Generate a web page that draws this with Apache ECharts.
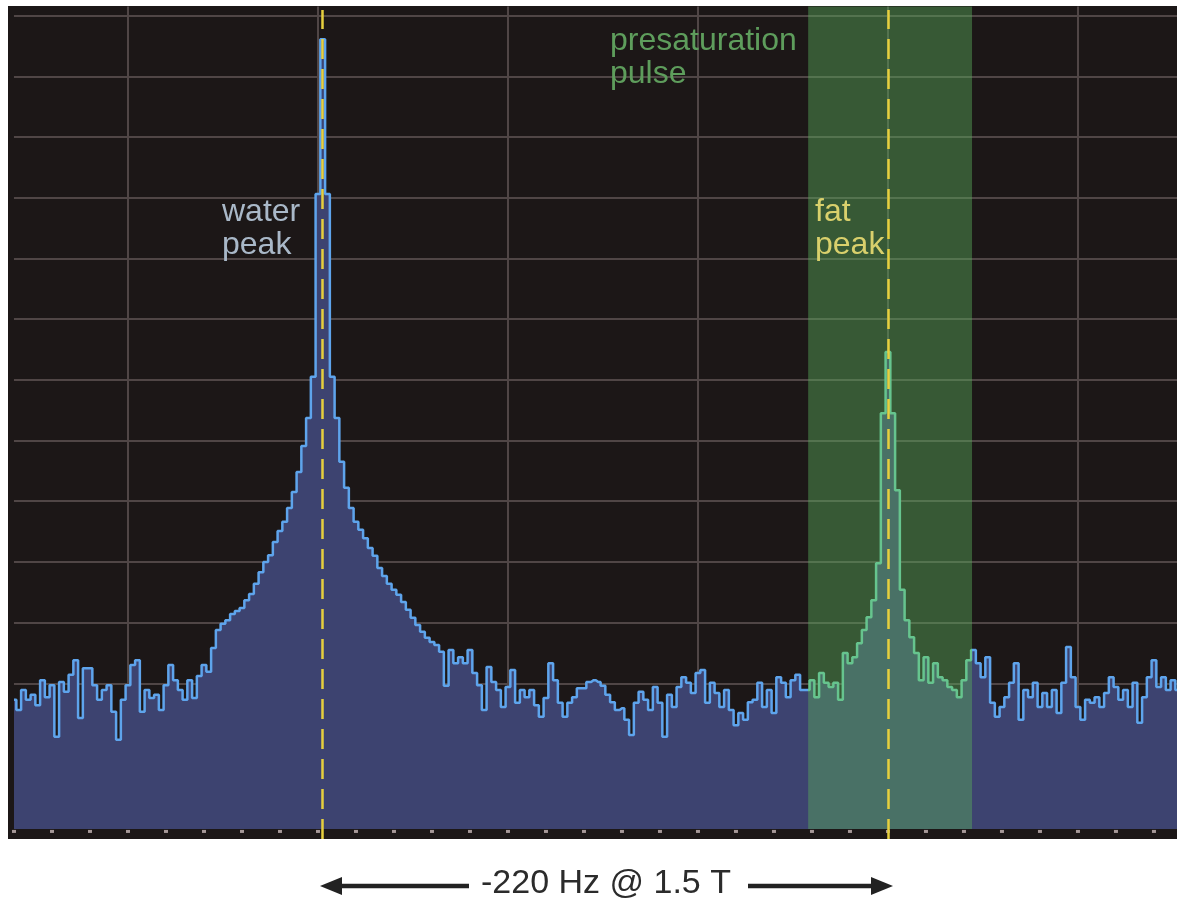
<!DOCTYPE html>
<html>
<head>
<meta charset="utf-8">
<script src="https://cdn.jsdelivr.net/npm/echarts@6/dist/echarts.min.js"></script>
<style>
html,body{margin:0;padding:0;background:#ffffff;overflow:hidden;}
#chart{width:1177px;height:905px;}
</style>
</head>
<body>
<div id="chart"></div>
<script>
// Spectrum amplitude per frequency bin (bin index 0..245)
const amplitude = [
  21.3,19.6,22.9,21.3,22.1,20.4,24.5,21.7,23.7,15.2,
  24.2,22.6,25.4,27.8,18.3,26.5,26.5,23.7,21.3,22.9,
  23.7,19.3,14.7,21.3,23.7,27.0,27.8,19.3,22.9,21.6,
  22.1,19.6,23.7,27.0,24.5,22.9,21.3,24.5,21.6,25.2,
  27.0,25.9,29.8,32.8,33.8,34.4,35.4,35.9,36.4,37.7,
  38.7,40.4,42.3,44.0,45.1,47.3,49.1,50.6,52.9,55.5,
  58.8,63.1,67.7,74.5,104.6,130.1,104.6,74.5,67.7,60.5,
  56.2,52.9,50.6,49.3,47.9,46.3,45.0,43.0,41.7,40.4,
  39.4,38.6,37.4,36.1,34.8,33.6,32.5,31.5,30.8,30.3,
  29.2,23.6,29.5,27.3,28.3,27.3,29.5,25.7,23.7,19.6,
  26.7,24.2,22.9,20.1,23.4,26.2,20.8,22.9,21.7,22.9,
  20.4,18.5,21.6,27.3,24.5,20.8,18.5,20.8,21.7,23.2,
  23.2,24.2,24.5,24.2,23.6,22.1,20.9,19.6,19.9,18.0,
  15.5,20.8,22.6,21.3,19.6,23.4,20.8,15.2,22.1,20.1,
  23.4,25.0,24.1,22.4,25.7,26.2,20.8,24.1,22.4,20.1,
  22.9,19.6,17.1,19.1,18.0,20.9,21.3,24.1,20.1,22.9,
  19.1,25.0,24.1,21.7,24.5,25.4,22.9,22.9,24.5,21.7,
  25.7,24.1,23.4,24.1,21.3,29.0,27.3,28.3,30.6,32.8,
  34.9,37.7,43.8,68.5,78.6,68.5,55.8,39.4,34.4,31.6,
  29.0,24.5,28.3,24.1,27.3,25.0,24.5,23.4,22.9,21.7,
  24.5,27.8,29.5,27.3,25.0,28.3,20.8,18.5,20.1,21.7,
  24.1,27.3,18.0,22.9,21.7,24.1,20.1,22.4,20.1,22.9,
  19.1,24.1,30.0,25.0,20.1,18.0,21.3,20.8,21.7,20.1,
  22.4,25.0,23.4,21.3,22.9,20.1,24.1,17.5,21.7,25.0,
  27.8,23.4,25.0,22.9,24.5,22.9
];
// Grid line positions (bin units / amplitude units)
const xGridLines = [24, 64, 104, 144, 184, 224];
const yGridLines = [4, 14, 24, 34, 44, 54, 64, 74, 84, 94, 104, 114, 124, 134];
// Minor tick dots along the bottom (bin units)
const minorTicks = [0,8,16,24,32,40,48,56,64,72,80,88,96,104,112,120,128,136,144,152,160,168,176,184,192,200,208,216,224,232,240];
// Water / fat peak positions (bin units)
const peakLines = [64.8, 184];
// Presaturation pulse band (bin units)
const pulseBand = [167.2, 201.7];
// Texts
const waterLabel = 'water\npeak';
const pulseLabel = 'presaturation\npulse';
const fatLabel = 'fat\npeak';
const shiftCaption = '-220 Hz @ 1.5 T';

const FONT = '"Liberation Sans", Arial, Helvetica, sans-serif';
const LINE_BLUE = '#5ea4ec';
const LINE_GREEN = '#66c48e';
const X_MAX = 244.85; // visible end of the spectrum at the right edge of the picture
const chart = echarts.init(document.getElementById('chart'), null, {renderer: 'canvas'});
const spectrum = amplitude.map((v, i) => [i, v]);

const option = {
  animation: false,
  backgroundColor: '#ffffff',
  grid: [
    {left: 13.975, top: 6.5, right: 0, height: 822.5, show: false},
    {left: 13.975, top: 10, right: 0, height: 829, show: false}
  ],
  xAxis: [
    {type: 'value', gridIndex: 0, min: 0, max: X_MAX, show: false},
    {type: 'value', gridIndex: 1, min: 0, max: X_MAX, show: false}
  ],
  yAxis: [
    {type: 'value', gridIndex: 0, min: 0, max: 135.5, show: false},
    {type: 'value', gridIndex: 1, min: 0, max: 1, show: false}
  ],
  visualMap: {
    type: 'piecewise', show: false, seriesIndex: 1, dimension: 0,
    pieces: [
      {lt: pulseBand[0], color: LINE_BLUE},
      {gte: pulseBand[0], lte: pulseBand[1], color: LINE_GREEN},
      {gt: pulseBand[1], color: LINE_BLUE}
    ]
  },
  graphic: {
    elements: [
      {type: 'rect', z: 0, silent: true,
        shape: {x: 8, y: 6, width: 1180, height: 833},
        style: {fill: '#1c1717'}},
      {type: 'text', z: 20, silent: true, x: 222, y: 196,
        style: {text: waterLabel, fill: '#a9b8c8', fontSize: 32, fontFamily: FONT, lineHeight: 33, verticalAlign: 'top', align: 'left'}},
      {type: 'text', z: 20, silent: true, x: 610, y: 25,
        style: {text: pulseLabel, fill: '#5e9d5c', fontSize: 32, fontFamily: FONT, lineHeight: 33, verticalAlign: 'top', align: 'left'}},
      {type: 'text', z: 20, silent: true, x: 815, y: 196,
        style: {text: fatLabel, fill: '#d9d06c', fontSize: 32, fontFamily: FONT, lineHeight: 33, verticalAlign: 'top', align: 'left'}},
      {type: 'text', z: 20, silent: true, x: 606, y: 884,
        style: {text: shiftCaption, fill: '#2b2b2b', fontSize: 34, fontFamily: FONT, verticalAlign: 'middle', align: 'center'}},
      {type: 'line', z: 20, silent: true,
        shape: {x1: 336, y1: 886, x2: 469, y2: 886},
        style: {stroke: '#222222', lineWidth: 4.5}},
      {type: 'polygon', z: 20, silent: true,
        shape: {points: [[320, 886], [342, 877], [342, 895]]},
        style: {fill: '#222222'}},
      {type: 'line', z: 20, silent: true,
        shape: {x1: 748, y1: 886, x2: 876, y2: 886},
        style: {stroke: '#222222', lineWidth: 4.5}},
      {type: 'polygon', z: 20, silent: true,
        shape: {points: [[893, 886], [871, 877], [871, 895]]},
        style: {fill: '#222222'}}
    ]
  },
  series: [
    {
      name: 'spectrum fill',
      type: 'line',
      xAxisIndex: 0, yAxisIndex: 0,
      z: 2,
      step: 'middle',
      symbol: 'none',
      silent: true,
      data: spectrum,
      lineStyle: {width: 0, color: '#3d4370'},
      areaStyle: {color: '#3d4370', opacity: 1},
      markLine: {
        silent: true, z: 1, symbol: ['none', 'none'], animation: false,
        label: {show: false},
        lineStyle: {color: '#504646', width: 2, type: 'solid'},
        emphasis: {disabled: true},
        data: xGridLines.map(v => ({xAxis: v})).concat(yGridLines.map(v => ({yAxis: v})))
      },
      markArea: {
        silent: true, z: 3, animation: false,
        itemStyle: {color: 'rgba(88,170,92,0.45)'},
        label: {show: false},
        emphasis: {disabled: true},
        data: [[{xAxis: pulseBand[0]}, {xAxis: pulseBand[1]}]]
      }
    },
    {
      name: 'spectrum',
      type: 'line',
      xAxisIndex: 0, yAxisIndex: 0,
      z: 4,
      step: 'middle',
      symbol: 'none',
      silent: true,
      data: spectrum,
      lineStyle: {width: 2.5}
    },
    {
      name: 'ticks',
      type: 'scatter',
      xAxisIndex: 0, yAxisIndex: 0,
      z: 4,
      clip: false,
      silent: true,
      symbol: 'rect',
      symbolSize: [4, 3],
      itemStyle: {color: '#c9b9b9'},
      data: minorTicks.map(x => [x, -0.4])
    },
    {
      name: 'peaks',
      type: 'line',
      xAxisIndex: 1, yAxisIndex: 1,
      z: 6,
      data: [],
      markLine: {
        silent: true, z: 6, symbol: ['none', 'none'], animation: false,
        label: {show: false},
        emphasis: {disabled: true},
        lineStyle: {color: '#e6cf3e', width: 2.5, type: [20, 10]},
        data: peakLines.map(v => ({xAxis: v}))
      }
    }
  ]
};
chart.setOption(option);
</script>
</body>
</html>
